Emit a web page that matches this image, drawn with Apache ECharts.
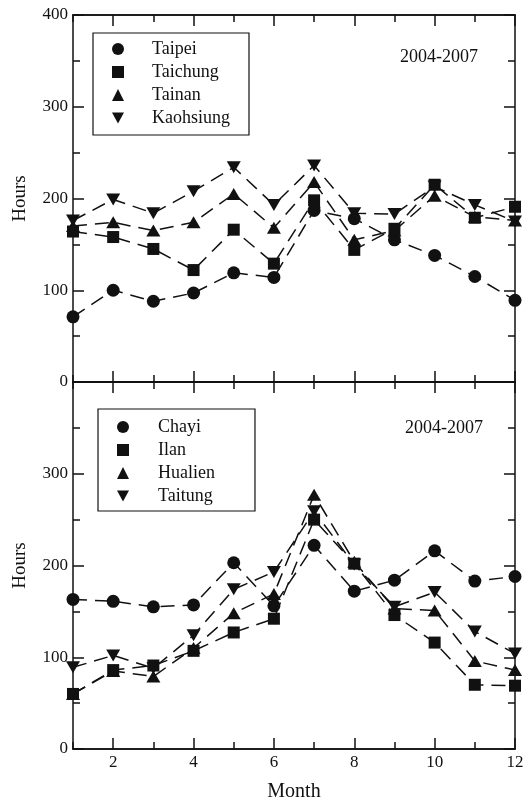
<!DOCTYPE html>
<html>
<head>
<meta charset="utf-8">
<script src="https://cdn.jsdelivr.net/npm/echarts@6/dist/echarts.min.js"></script>
<style>
  html, body { margin: 0; padding: 0; background: #fff; }
  #main { width: 523px; height: 799px; }
</style>
</head>
<body>
<div id="main"></div>
<script>
'use strict';
// months on the x axis
var months = [1, 2, 3, 4, 5, 6, 7, 8, 9, 10, 11, 12];
var monthTicks = [2, 4, 6, 8, 10, 12];
var hourTicks = [0, 100, 200, 300, 400];

// upper panel: west coast stations
var taipei    = [71, 100, 88, 97, 119, 114, 187, 178, 155, 138, 115, 89];
var taichung  = [164, 158, 145, 122, 166, 129, 198, 144, 167, 215, 179, 191];
var tainan    = [170, 174, 165, 174, 205, 168, 218, 155, 165, 203, 180, 176];
var kaohsiung = [176, 199, 184, 208, 234, 193, 236, 184, 183, 213, 193, 175];

// lower panel
var chayi   = [163, 161, 155, 157, 203, 156, 222, 172, 184, 216, 183, 188];
var ilan    = [60, 86, 91, 107, 127, 142, 250, 202, 146, 116, 70, 69];
var hualien = [60, 85, 79, 110, 148, 169, 277, 204, 153, 151, 96, 86];
var taitung = [89, 102, 88, 124, 174, 193, 259, 201, 155, 171, 128, 104];

var periodLabel = '2004-2007';

var FONT = 'Liberation Serif';
var INK = '#111';
var DOWN_TRI = 'path://M0,0 L10,0 L5,9 Z';

function pairs(vals) {
    return months.map(function(m, i) { return [m, vals[i]]; });
}

function xAxes(gridIndex, withLabels) {
    var base = {
        gridIndex: gridIndex, type: 'value', min: 1, max: 12, interval: 1,
        axisLine: { show: true, lineStyle: { color: INK, width: 1.5 } },
        splitLine: { show: false },
        axisLabel: { show: false }
    };
    var list = [];
    ['bottom', 'top'].forEach(function(pos) {
        // minor ticks every month
        list.push(Object.assign({}, base, {
            position: pos,
            axisTick: { show: true, inside: true, length: 7, lineStyle: { color: INK, width: 1.5 } }
        }));
        // major ticks on even months
        var major = Object.assign({}, base, {
            position: pos,
            axisTick: { show: true, inside: true, length: 11, customValues: monthTicks, lineStyle: { color: INK, width: 1.5 } }
        });
        if (pos === 'bottom' && withLabels) {
            major.axisLabel = { show: true, customValues: monthTicks, margin: 5,
                fontFamily: FONT, fontSize: 17, color: INK };
            major.name = 'Month';
            major.nameLocation = 'middle';
            major.nameGap = 33;
            major.nameTextStyle = { fontFamily: FONT, fontSize: 20, color: INK };
        }
        list.push(major);
    });
    return list;
}

function yAxes(gridIndex, hideTop) {
    var common = {
        gridIndex: gridIndex, type: 'value', min: 0, max: 400, interval: 100,
        axisLine: { show: true, lineStyle: { color: INK, width: 1.5 } },
        axisTick: { show: true, inside: true, length: 11, lineStyle: { color: INK, width: 1.5 } },
        minorTick: { show: true, splitNumber: 2, length: 7, lineStyle: { color: INK, width: 1.5 } },
        splitLine: { show: false },
        minorSplitLine: { show: false }
    };
    var left = Object.assign({}, common, {
        position: 'left',
        name: 'Hours', nameLocation: 'middle', nameGap: 43,
        nameTextStyle: { fontFamily: FONT, fontSize: 19, color: INK },
        axisLabel: {
            show: true, margin: 5, fontFamily: FONT, fontSize: 17, color: INK,
            formatter: function(v) { return (hideTop && v === 400) ? '' : String(v); }
        }
    });
    var right = Object.assign({}, common, { position: 'right', axisLabel: { show: false } });
    return [left, right];
}

var shapes = ['circle', 'rect', 'triangle', DOWN_TRI];
var sizes = [13, 12, [14, 12], [14, 12]];

function makeSeries(names, data, xIdx, yIdx) {
    return names.map(function(n, i) {
        return {
            name: n, type: 'line', xAxisIndex: xIdx, yAxisIndex: yIdx,
            data: pairs(data[i]),
            symbol: shapes[i], symbolSize: sizes[i],
            showSymbol: true, animation: false,
            itemStyle: { color: INK },
            lineStyle: { color: INK, width: 1.5, type: [14, 8] },
            emphasis: { disabled: true }
        };
    });
}

function makeLegend(names, left, top, padding, textPad) {
    return {
        orient: 'vertical', left: left, top: top,
        padding: padding, itemGap: 5, itemWidth: 12, itemHeight: 12,
        borderColor: INK, borderWidth: 1.2,
        selectedMode: false,
        textStyle: { fontFamily: FONT, fontSize: 18, color: INK, lineHeight: 18, padding: [0, 0, 0, textPad] },
        data: names.map(function(n, i) { return { name: n, icon: shapes[i] }; })
    };
}

var topNames = ['Taipei', 'Taichung', 'Tainan', 'Kaohsiung'];
var botNames = ['Chayi', 'Ilan', 'Hualien', 'Taitung'];

var chart = echarts.init(document.getElementById('main'), null, { renderer: 'canvas' });
chart.setOption({
    backgroundColor: '#fff',
    animation: false,
    title: [
        { text: periodLabel, left: 395, top: 43, textStyle: { fontFamily: FONT, fontSize: 18, fontWeight: 'normal', color: INK } },
        { text: periodLabel, left: 400, top: 414, textStyle: { fontFamily: FONT, fontSize: 18, fontWeight: 'normal', color: INK } }
    ],
    legend: [
        makeLegend(topNames, 93, 33, [7, 19, 8, 19], 23),
        makeLegend(botNames, 98, 409, [9, 40, 6, 19], 24)
    ],
    grid: [
        { left: 73, top: 15, width: 442, height: 367, outerBoundsMode: 'none' },
        { left: 73, top: 382, width: 442, height: 367, outerBoundsMode: 'none' }
    ],
    xAxis: xAxes(0, false).concat(xAxes(1, true)),
    yAxis: yAxes(0, false).concat(yAxes(1, true)),
    series: makeSeries(topNames, [taipei, taichung, tainan, kaohsiung], 0, 0)
        .concat(makeSeries(botNames, [chayi, ilan, hualien, taitung], 4, 2))
});
</script>
</body>
</html>
